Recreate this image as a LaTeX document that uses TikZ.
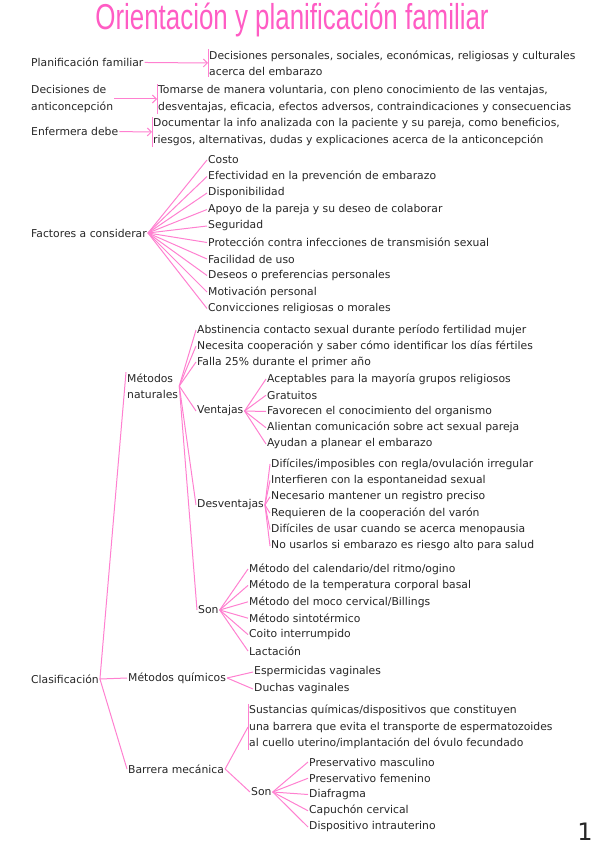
\documentclass[tikz,border=0pt]{standalone}
\usepackage{fontspec}
\usepackage{tikz}
\usetikzlibrary{arrows.meta}
\setmainfont{DejaVu Sans}
\newfontfamily\titlefont[FakeStretch=0.72]{Liberation Sans}
\definecolor{rosa}{HTML}{FF80D0}
\definecolor{rosatit}{HTML}{FF5CC4}
\definecolor{ink}{HTML}{262626}

\begin{document}
\begin{tikzpicture}[x=1pt, y=-1pt, >={Straight Barb[length=4pt]},
  font=\fontsize{10.8}{16.4}\selectfont,
  every node/.style={inner sep=1pt, text=ink},
  leaf/.style={anchor=west, align=left},
  conn/.style={draw=rosa, line width=1pt}]
  \useasboundingbox (0,0) rectangle (599,848);

  % Titulo
  \node[font=\titlefont\fontsize{36}{36}\selectfont, text=rosatit] (titulo) at (292,20) {Orientación y planificación familiar};

  % Definiciones con llave
  \node[leaf] (plan) at (30,62) {Planificación familiar};
  \node[leaf] (plantxt) at (208,63) {Decisiones personales, sociales, económicas, religiosas y culturales\\acerca del embarazo};
  \draw[conn] (plantxt.north west) -- (plantxt.south west);
  \draw[conn,->] (plan) -- (plantxt.west);

  \node[leaf] (deci) at (30,99) {Decisiones de\\anticoncepción};
  \node[leaf] (decitxt) at (157,99) {Tomarse de manera voluntaria, con pleno conocimiento de las ventajas,\\desventajas, eficacia, efectos adversos, contraindicaciones y consecuencias};
  \draw[conn] (decitxt.north west) -- (decitxt.south west);
  \draw[conn,->] (deci) -- (decitxt.west);

  \node[leaf] (enf) at (30,131) {Enfermera debe};
  \node[leaf] (enftxt) at (152,132) {Documentar la info analizada con la paciente y su pareja, como beneficios,\\riesgos, alternativas, dudas y explicaciones acerca de la anticoncepción};
  \draw[conn] (enftxt.north west) -- (enftxt.south west);
  \draw[conn,->] (enf) -- (enftxt.west);

  % Factores
  \node[leaf] (fac) at (30,233) {Factores a considerar};
  \foreach \txt [count=\i] in {Costo, Efectividad en la prevención de embarazo, Disponibilidad,
      Apoyo de la pareja y su deseo de colaborar, Seguridad,
      Protección contra infecciones de transmisión sexual, Facilidad de uso,
      Deseos o preferencias personales, Motivación personal, Convicciones religiosas o morales} {
    \node[leaf] (fac\i) at (207,143.5+16.5*\i) {\txt};
    \draw[conn] (fac.east) -- (fac\i.west);
  }

  % Clasificacion
  \node[leaf] (clas) at (30,679) {Clasificación};
  \node[leaf] (nat) at (126,386) {Métodos\\naturales};
  \node[leaf] (quim) at (127,678) {Métodos químicos};
  \node[leaf] (barr) at (127,769) {Barrera mecánica};
  \draw[conn] (clas.east) -- (nat.north west);
  \draw[conn] (clas.east) -- (quim.west);
  \draw[conn] (clas.east) -- (barr.west);

  % Metodos naturales
  \node[leaf] (nat1) at (196,330) {Abstinencia contacto sexual durante período fertilidad mujer};
  \node[leaf] (nat2) at (196,346) {Necesita cooperación y saber cómo identificar los días fértiles};
  \node[leaf] (nat3) at (196,362) {Falla 25\% durante el primer año};
  \node[leaf] (vent) at (196,411) {Ventajas};
  \node[leaf] (desv) at (196,505) {Desventajas};
  \node[leaf] (son1) at (197,610) {Son};
  \foreach \n in {nat1,nat2,nat3,vent,desv,son1}
    \draw[conn] (nat.east) -- (\n.west);

  \foreach \txt [count=\i] in {Aceptables para la mayoría grupos religiosos, Gratuitos,
      Favorecen el conocimiento del organismo, Alientan comunicación sobre act sexual pareja,
      Ayudan a planear el embarazo} {
    \node[leaf] (vent\i) at (266,362.75+16.25*\i) {\txt};
    \draw[conn] (vent.east) -- (vent\i.west);
  }
  \foreach \txt [count=\i] in {Difíciles/imposibles con regla/ovulación irregular,
      Interfieren con la espontaneidad sexual, Necesario mantener un registro preciso,
      Requieren de la cooperación del varón, Difíciles de usar cuando se acerca menopausia,
      No usarlos si embarazo es riesgo alto para salud} {
    \node[leaf] (desv\i) at (270,447.6+16.4*\i) {\txt};
    \draw[conn] (desv.east) -- (desv\i.west);
  }
  \foreach \txt [count=\i] in {Método del calendario/del ritmo/ogino,
      Método de la temperatura corporal basal, Método del moco cervical/Billings,
      Método sintotérmico, Coito interrumpido, Lactación} {
    \node[leaf] (son1\i) at (248,552.6+16.4*\i) {\txt};
    \draw[conn] (son1.east) -- (son1\i.west);
  }

  % Metodos quimicos
  \node[leaf] (quim1) at (253,672) {Espermicidas vaginales};
  \node[leaf] (quim2) at (253,689) {Duchas vaginales};
  \draw[conn] (quim.east) -- (quim1.west);
  \draw[conn] (quim.east) -- (quim2.west);

  % Barrera mecanica
  \node[leaf] (barrtxt) at (248,727) {Sustancias químicas/dispositivos que constituyen\\una barrera que evita el transporte de espermatozoides\\al cuello uterino/implantación del óvulo fecundado};
  \draw[conn] (barrtxt.north west) -- (barrtxt.south west);
  \node[leaf] (son2) at (250,792) {Son};
  \draw[conn] (barr.east) -- (barrtxt.west);
  \draw[conn] (barr.east) -- (son2.west);
  \foreach \txt [count=\i] in {Preservativo masculino, Preservativo femenino, Diafragma,
      Capuchón cervical, Dispositivo intrauterino} {
    \node[leaf] (son2\i) at (308,745.75+16.25*\i) {\txt};
    \draw[conn] (son2.east) -- (son2\i.west);
  }

  \node[font=\fontsize{24}{24}\selectfont] (pag) at (585,832) {1};
\end{tikzpicture}
\end{document}
